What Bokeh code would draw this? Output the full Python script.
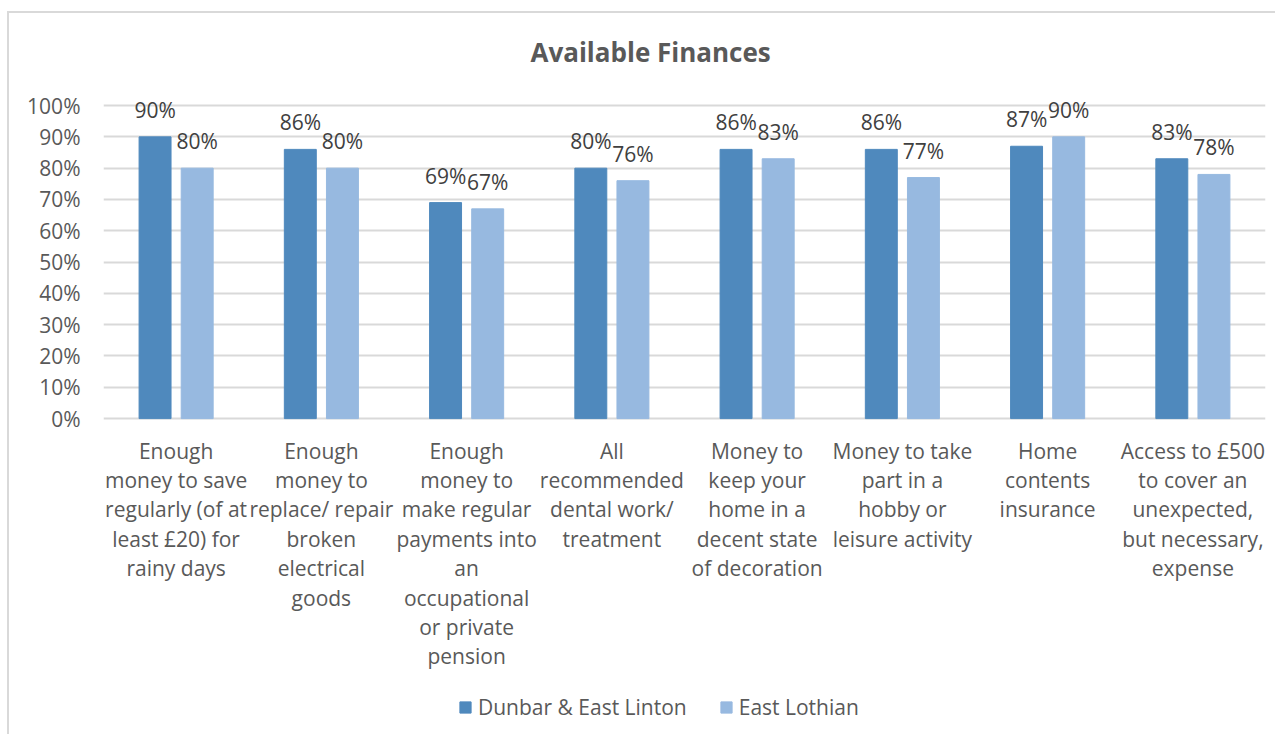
from bokeh.plotting import figure
from bokeh.models import ColumnDataSource, FactorRange, FixedTicker, Legend, LegendItem, NumeralTickFormatter, Range1d
from bokeh.transform import dodge
from bokeh.core.properties import value
from bokeh.embed import file_html
from bokeh.resources import INLINE

categories = [
    "Enough\nmoney to save\nregularly (of at\nleast £20) for\nrainy days",
    "Enough\nmoney to\nreplace/ repair\nbroken\nelectrical\ngoods",
    "Enough\nmoney to\nmake regular\npayments into\nan\noccupational\nor private\npension",
    "All\nrecommended\ndental work/\ntreatment",
    "Money to\nkeep your\nhome in a\ndecent state\nof decoration",
    "Money to take\npart in a\nhobby or\nleisure activity",
    "Home\ncontents\ninsurance",
    "Access to £500\nto cover an\nunexpected,\nbut necessary,\nexpense",
]
series_names = ["Dunbar & East Linton", "East Lothian"]
dunbar = [0.90, 0.86, 0.69, 0.80, 0.86, 0.86, 0.87, 0.83]
east_lothian = [0.80, 0.80, 0.67, 0.76, 0.83, 0.77, 0.90, 0.78]
y_ticks = [0.0, 0.1, 0.2, 0.3, 0.4, 0.5, 0.6, 0.7, 0.8, 0.9, 1.0]

FONT = "Open Sans"
DARK = "#4F89BD"
LIGHT = "#97B9E0"

src = ColumnDataSource(dict(
    cat=categories,
    zero=[0.0] * len(categories),
    d=dunbar,
    e=east_lothian,
    dl=[f"{round(v*100)}%" for v in dunbar],
    el=[f"{round(v*100)}%" for v in east_lothian],
))

p = figure(
    x_range=FactorRange(*categories, range_padding=0),
    y_range=Range1d(-0.990, 1.112),
    width=1268, height=723,
    output_backend="svg", toolbar_location=None,
    title="Available Finances",
    min_border_left=94, min_border_right=12, min_border_top=57, min_border_bottom=8,
)
p.styles = {"border-top": "2px solid #D9D9D9", "border-left": "2px solid #D9D9D9",
            "margin-left": "7px", "margin-top": "11px"}
p.outline_line_color = None

p.title.align = "left"
p.title.offset = 427
p.title.text_font = FONT
p.title.text_font_size = "26px"
p.title.text_font_style = "bold"
p.title.text_color = "#595959"
p.title.standoff = 2

r1 = p.vbar(x=dodge("cat", -0.145, range=p.x_range), top="d", width=0.22, source=src,
            fill_color=DARK, line_color=DARK)
r2 = p.vbar(x=dodge("cat", 0.145, range=p.x_range), top="e", width=0.22, source=src,
            fill_color=LIGHT, line_color=LIGHT)

for col, ycol, off in (("dl", "d", -0.145), ("el", "e", 0.145)):
    p.text(x=dodge("cat", off, range=p.x_range), y=ycol, text=col, source=src,
           text_align="center", text_baseline="alphabetic", y_offset=-27,
           text_font=value(FONT), text_font_size="21px", text_color="#404040")

# category labels below the 0% line
p.text(x="cat", y="zero", text="cat", source=src,
       text_align="center", text_baseline="top", y_offset=18,
       text_line_height=1.05,
       text_font=value(FONT), text_font_size="21px", text_color="#595959")

p.xaxis.visible = False

p.yaxis.ticker = FixedTicker(ticks=y_ticks)
p.yaxis.bounds = (0, 1)
p.yaxis.formatter = NumeralTickFormatter(format="0%")
p.yaxis.axis_line_color = None
p.yaxis.major_tick_line_color = None
p.yaxis.minor_tick_line_color = None
p.yaxis.major_label_text_font = FONT
p.yaxis.major_label_text_font_size = "21px"
p.yaxis.major_label_text_color = "#595959"
p.yaxis.major_label_standoff = 17

p.xgrid.grid_line_color = None
p.ygrid.ticker = FixedTicker(ticks=y_ticks)
p.ygrid.grid_line_color = "#D9D9D9"
p.ygrid.grid_line_width = 2

legend = Legend(
    items=[LegendItem(label=series_names[0], renderers=[r1]),
           LegendItem(label=series_names[1], renderers=[r2])],
    orientation="horizontal", location=(355, 7),
    label_text_font=FONT, label_text_font_size="21px", label_text_color="#595959",
    glyph_width=14, glyph_height=14, spacing=32, label_standoff=6,
    border_line_color=None, background_fill_alpha=0, margin=0, padding=10,
)
p.add_layout(legend, "center")

open("out.html", "w").write(file_html(p, INLINE))
